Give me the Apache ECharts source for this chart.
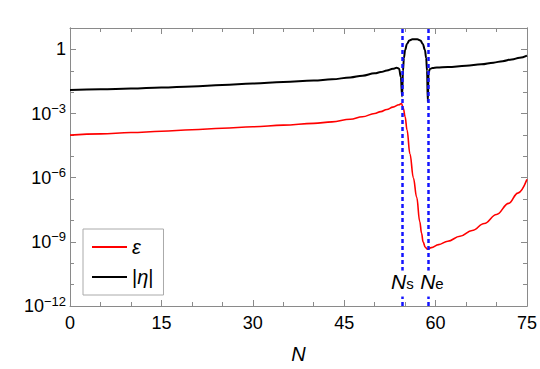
<!DOCTYPE html>
<html>
<head>
<meta charset="utf-8">
<script src="https://cdn.jsdelivr.net/npm/echarts@6/dist/echarts.min.js"></script>
<style>
  html, body { margin: 0; padding: 0; background: #fff; }
  #chart { width: 540px; height: 369px; }
</style>
</head>
<body>
<div id="chart"></div>
<script>
// log10 of the slow-roll parameters
const epsPoints = [
  [0, -4.01], [5, -3.95], [10, -3.89], [15, -3.83], [20, -3.76], [25, -3.69],
  [30, -3.62], [35, -3.54], [40, -3.46], [43, -3.39], [46, -3.27], [48, -3.15],
  [50, -3.00], [51, -2.91], [52, -2.81], [53, -2.70], [54, -2.59], [54.4, -2.53],
  [54.7, -2.75], [55.0, -3.15], [55.3, -3.75], [55.8, -4.9], [56.35, -6.0],
  [56.9, -6.92], [57.4, -8.05], [57.7, -8.6], [57.95, -9.0], [58.3, -9.25],
  [58.63, -9.34], [59.3, -9.27], [60.5, -9.13], [62, -8.97], [64, -8.74],
  [66, -8.47], [68, -8.14], [70, -7.72], [72, -7.2], [73.5, -6.72], [75, -6.08]
];
const etaPoints = [
  [0, -1.90], [5, -1.87], [10, -1.83], [15, -1.78], [20, -1.73], [25, -1.67],
  [30, -1.60], [35, -1.53], [40, -1.46], [43, -1.40], [46, -1.31], [48, -1.23],
  [50, -1.12], [51, -1.06], [52, -0.99], [53, -0.91], [53.6, -0.86], [54.0, -0.90],
  [54.3, -1.3], [54.5, -2.2], [54.65, -1.0], [54.8, -0.4], [55.0, -0.03],
  [55.3, 0.25], [55.7, 0.42], [56.2, 0.47], [57.0, 0.47], [57.5, 0.42],
  [57.9, 0.25], [58.25, -0.03], [58.45, -0.4], [58.6, -1.0], [58.72, -2.45],
  [58.85, -1.1], [59.05, -0.92], [59.5, -0.87], [60.2, -0.85], [62, -0.82],
  [65, -0.77], [67.5, -0.70], [69.5, -0.62], [71, -0.55], [72.5, -0.47],
  [73.8, -0.39], [75, -0.29]
];
const markN = [54.5, 58.75];           // N_s, N_e
const markLabels = [
  { coord: [54.55, -10.95], text: '{n|N}{s|s}' },
  { coord: [59.4, -10.95], text: '{n|N}{s|e}' }
];
const xTicks = { min: 0, max: 75, step: 15 };
const yTicks = { min: -12, max: 1, step: 3 };

const font = 'Liberation Sans, Arial, sans-serif';
const axisGray = '#8a8a8a';

function yLabel(v) {
  if (v === 0) return '{b|1}';
  if (v % 3 !== 0 || v > 0) return '';
  return '{b|10}{s|\u2212' + (-v) + '}';
}
const yRich = {
  b: { fontSize: 18, fontFamily: font, color: '#000' },
  s: { fontSize: 13, fontFamily: font, color: '#000', padding: [0, 0, 10, 0] }
};

function yAxisDef(pos, step, tickLen, labels) {
  return {
    type: 'value', position: pos, min: yTicks.min, max: yTicks.max, interval: step,
    axisLine: { show: true, lineStyle: { color: axisGray, width: 1 } },
    axisTick: { show: true, inside: true, length: tickLen, lineStyle: { color: axisGray } },
    splitLine: { show: false },
    axisLabel: labels
      ? { show: true, formatter: yLabel, rich: yRich, margin: 4 }
      : { show: false }
  };
}
function xAxisDef(pos, labels) {
  return {
    type: 'value', position: pos, min: xTicks.min, max: xTicks.max, interval: xTicks.step,
    axisLine: { show: true, onZero: false, lineStyle: { color: axisGray, width: 1 } },
    axisTick: { show: true, inside: true, length: 6, lineStyle: { color: axisGray } },
    minorTick: { show: true, splitNumber: 3, length: 4, lineStyle: { color: axisGray } },
    splitLine: { show: false },
    axisLabel: labels
      ? { show: true, fontSize: 18, fontFamily: font, color: '#000', margin: 8 }
      : { show: false },
    name: labels ? 'N' : '',
    nameLocation: 'middle',
    nameGap: 38,
    nameTextStyle: { fontSize: 20, fontStyle: 'italic', fontFamily: font, color: '#000' }
  };
}

var myChart = echarts.init(document.getElementById('chart'), null, { renderer: 'svg' });
var option = {
  animation: false,
  grid: { left: 70, right: 13, top: 28, bottom: 59 },
  xAxis: [xAxisDef('bottom', true), xAxisDef('top', false)],
  yAxis: [
    yAxisDef('left', yTicks.step, 6, true),
    yAxisDef('left', 1, 4, false),
    yAxisDef('right', yTicks.step, 6, false),
    yAxisDef('right', 1, 4, false)
  ],
  legend: {
    orient: 'vertical', left: 83, top: 229,
    padding: [8, 10, 8, 9], itemGap: 10,
    itemWidth: 35, itemHeight: 2, icon: 'rect',
    backgroundColor: '#fff', borderColor: '#aaa', borderWidth: 1,
    data: ['ε', '|η|'],
    formatter: function (name) {
      return name === 'ε' ? '{i|ε}' : '{r||}{i|η}{r||}';
    },
    textStyle: {
      rich: {
        i: { fontSize: 20, fontStyle: 'italic', fontFamily: font, color: '#000' },
        r: { fontSize: 20, fontFamily: font, color: '#000' }
      }
    }
  },
  series: [
    {
      name: '|η|', type: 'line', data: etaPoints, showSymbol: false,
      smooth: 0.4, smoothMonotone: 'x',
      lineStyle: { color: '#000', width: 2 }, itemStyle: { color: '#000' },
      z: 3
    },
    {
      name: 'ε', type: 'line', data: epsPoints, showSymbol: false,
      smooth: 0.4, smoothMonotone: 'x',
      lineStyle: { color: '#ff0000', width: 1.6 }, itemStyle: { color: '#ff0000' },
      z: 3,
      markLine: {
        silent: true, symbol: 'none', label: { show: false },
        lineStyle: { color: '#1414ff', width: 2.5, type: [4, 3] },
        data: markN.map(function (n) { return { xAxis: n }; }),
        z: 4
      },
      markPoint: {
        silent: true, symbol: 'rect', symbolSize: 1,
        itemStyle: { color: 'rgba(0,0,0,0)' },
        data: markLabels.map(function (m) {
          return {
            coord: m.coord,
            label: {
              show: true, position: 'inside', formatter: m.text,
              backgroundColor: '#fff', padding: [0, 1, 0, 1],
              rich: {
                n: { fontSize: 21, fontStyle: 'italic', fontFamily: font, color: '#000', padding: [0, 0, 5, 0] },
                s: { fontSize: 15, fontFamily: font, color: '#000' }
              }
            }
          };
        }),
        z: 5
      }
    }
  ]
};
myChart.setOption(option);
window.addEventListener('resize', () => {
  myChart.resize()
})
</script>
</body>
</html>
